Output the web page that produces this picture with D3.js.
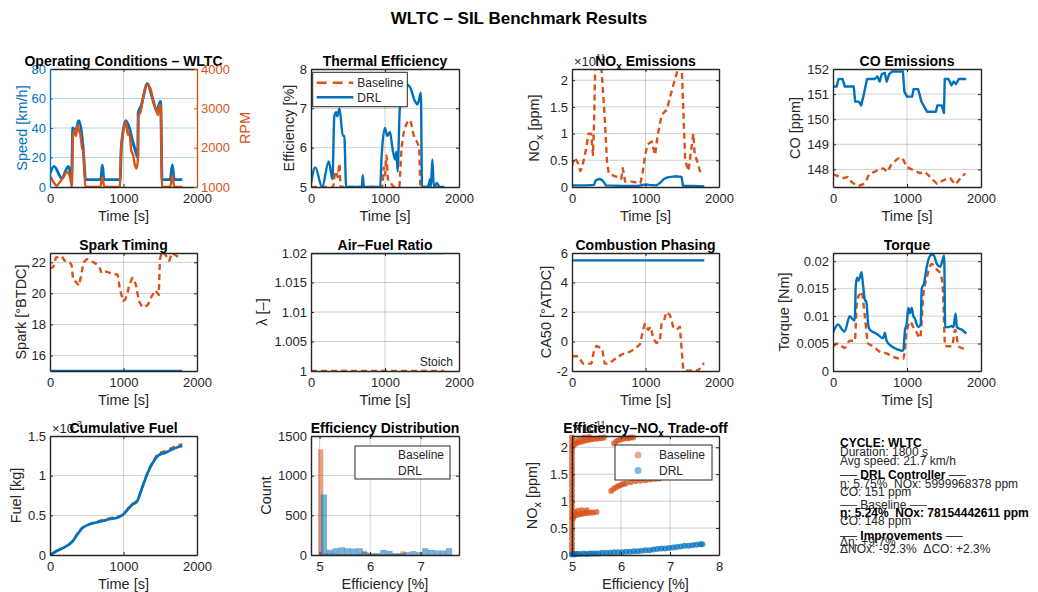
<!DOCTYPE html>
<meta charset="utf-8">
<script src="https://d3js.org/d3.v7.min.js"></script>
<style>
body { margin: 0; background: #fff; }
.grid { stroke: #262626; stroke-opacity: 0.22; stroke-width: 1; }
</style>
<body>
<script>
// ---------- data ----------
var timeTicks = [0, 1000, 2000];

// operating conditions (WLTC)
var speedPts = [[0,9],[55,14],[160,6],[250,14],[295,8],[310,40],[350,38],[390,45],[450,27],[485,5],[690,5],[712,15],[735,5],[955,5],[970,27],[1030,45],[1080,40],[1130,30],[1160,25],[1195,20],[1200,50],[1240,55],[1325,70],[1395,60],[1450,52],[1505,58],[1525,5],[1635,5],[1665,15],[1690,5],[1800,5]];
var rpmPts = [[0,1300],[45,1130],[91,1040],[137,1130],[183,1250],[228,1380],[256,1340],[283,1150],[297,1000],[310,2200],[329,2450],[356,2300],[374,2580],[393,2450],[411,2350],[434,2020],[457,1850],[480,1000],[685,1000],[712,1250],[740,1000],[950,1000],[968,1940],[1005,2490],[1032,2660],[1059,2320],[1078,2400],[1105,1940],[1132,1800],[1150,1600],[1178,1470],[1196,1700],[1200,2790],[1233,2920],[1269,3300],[1324,3600],[1370,3480],[1406,3170],[1443,2960],[1470,2830],[1493,3090],[1507,3050],[1525,1000],[1635,1000],[1667,1300],[1690,1000],[1800,1000]];

// thermal efficiency [%]
var effDRL = [[0,5.1],[58,5.5],[150,5.0],[240,5.65],[290,5.2],[315,6.8],[340,6.9],[355,6.8],[385,7.0],[430,6.3],[450,6.3],[475,5.0],[685,5.0],[700,5.3],[715,5.0],[935,5.0],[955,5.8],[1000,6.5],[1030,6.3],[1067,6.4],[1100,6.0],[1135,5.7],[1155,5.9],[1170,5.4],[1200,7.0],[1225,7.3],[1290,7.6],[1335,7.55],[1400,7.2],[1440,7.1],[1485,7.4],[1500,5.0],[1580,5.0],[1595,5.1],[1610,5.2],[1620,5.0],[1640,5.7],[1660,5.0],[1700,5.1],[1740,5.0],[1800,5.0]];
var effBase = [[0,5.0],[300,5.0],[320,5.3],[340,5.4],[360,5.25],[385,5.6],[400,5.0],[960,5.0],[985,5.5],[1000,5.3],[1020,5.8],[1040,5.2],[1080,5.1],[1120,5.0],[1190,5.0],[1225,6.0],[1290,6.6],[1335,6.7],[1390,6.3],[1460,6.0],[1480,5.0],[1800,5.0]];

// NOx [x1e11 ppm]
var noxBase = [[0,0.4],[36,0.55],[80,0.45],[113,0.3],[135,0.35],[190,0.7],[225,1.0],[260,1.0],[285,0.6],[300,1.2],[316,2.25],[400,2.25],[416,1.9],[445,1.3],[475,0.5],[500,0.25],[590,0.2],[670,0.15],[690,0.35],[725,0.1],[815,0.1],[930,0.07],[960,0.25],[995,0.6],[1030,0.8],[1085,0.85],[1130,0.6],[1170,1.0],[1220,1.35],[1290,1.45],[1357,1.8],[1448,2.25],[1493,2.25],[1505,1.8],[1540,0.5],[1585,0.3],[1650,1.0],[1670,0.6],[1700,0.5],[1740,0.3],[1800,0.25]];
var noxDRL = [[0,0.03],[200,0.03],[300,0.04],[320,0.12],[360,0.15],[400,0.14],[440,0.08],[460,0.03],[700,0.02],[900,0.02],[1000,0.05],[1050,0.04],[1150,0.03],[1200,0.08],[1250,0.15],[1300,0.18],[1400,0.2],[1490,0.19],[1510,0.02],[1650,0.02],[1800,0.01]];

// CO [ppm]
var coDRL = [[0,151.3],[50,151.3],[75,151.6],[130,151.6],[160,151.3],[280,151.3],[300,150.7],[350,150.7],[380,150.55],[410,150.9],[460,151.6],[560,151.6],[600,151.7],[630,151.5],[660,151.8],[700,151.85],[725,151.5],[760,151.8],[800,151.9],[945,151.9],[965,151.1],[1000,150.9],[1070,150.9],[1090,151.2],[1150,151.2],[1195,150.7],[1270,150.3],[1390,150.3],[1410,150.55],[1470,150.55],[1500,150.25],[1510,151.6],[1560,151.6],[1600,151.35],[1630,151.5],[1660,151.4],[1700,151.6],[1800,151.6]];
var coBase = [[0,147.8],[50,147.75],[100,147.7],[150,147.65],[200,147.7],[250,147.5],[300,147.4],[350,147.35],[400,147.4],[440,147.5],[470,147.7],[500,147.84],[560,147.9],[620,148.0],[680,148.04],[733,147.9],[790,148.2],[880,148.44],[940,148.45],[995,148.1],[1086,147.97],[1176,147.85],[1244,147.9],[1312,147.7],[1403,147.43],[1450,147.5],[1516,147.6],[1584,147.65],[1652,147.4],[1710,147.6],[1787,147.85]];

// spark timing [deg BTDC]
var sparkDRL = [[0,15],[1800,15]];
var sparkBase = [[0,21.6],[45,21.7],[80,22.3],[157,22.4],[200,22.1],[270,22.0],[295,21.8],[314,20.9],[360,20.7],[395,20.5],[426,21.2],[457,22.0],[502,22.2],[560,22.1],[628,21.9],[673,21.7],[700,21.3],[762,21.4],[830,21.3],[920,21.2],[950,20.3],[995,19.5],[1022,19.6],[1054,20.0],[1076,20.5],[1121,21.0],[1166,20.6],[1210,19.5],[1247,19.2],[1287,19.1],[1336,19.3],[1381,19.8],[1435,20.2],[1480,19.9],[1495,22.2],[1525,22.7],[1570,22.5],[1623,22.1],[1659,22.6],[1726,22.4],[1771,22.3]];

// air-fuel ratio
var lambdaDRL = [[0,1.02],[1800,1.02]];
var lambdaBase = [[0,1.0],[1800,1.0]];

// CA50 [deg ATDC]
var ca50DRL = [[0,5.5],[1800,5.5]];
var ca50Base = [[0,-1.0],[82,-1.0],[150,-1.5],[264,-1.5],[300,-0.6],[332,-0.3],[377,-0.4],[410,-0.5],[445,-1.5],[500,-1.5],[582,-1.2],[627,-1.1],[664,-0.9],[718,-0.8],[786,-0.7],[855,-0.5],[923,-0.2],[955,0.5],[990,1.2],[1036,0.8],[1073,1.0],[1105,0.2],[1150,-0.1],[1195,0],[1218,1.2],[1255,1.5],[1286,2.0],[1332,1.8],[1377,1.0],[1423,0.8],[1468,1.0],[1491,-0.5],[1514,-1.9],[1582,-2.0],[1673,-1.9],[1709,-2.0],[1790,-1.5],[1800,-1.5]];

// torque [Nm]
var torqueDRL = [[0,0.0070],[45,0.0082],[68,0.0085],[127,0.0075],[158,0.0072],[226,0.0100],[262,0.0095],[294,0.0092],[308,0.0155],[326,0.0170],[344,0.0165],[362,0.0170],[385,0.0180],[407,0.0155],[430,0.0130],[452,0.0125],[475,0.0085],[498,0.0075],[588,0.0068],[678,0.0060],[701,0.0070],[724,0.0055],[792,0.0045],[860,0.0040],[928,0.0037],[950,0.0038],[973,0.0075],[995,0.0085],[1018,0.0115],[1040,0.0105],[1063,0.0115],[1086,0.0100],[1109,0.0095],[1131,0.0085],[1154,0.0080],[1185,0.0085],[1199,0.0150],[1231,0.0160],[1267,0.0190],[1312,0.0210],[1357,0.0212],[1403,0.0195],[1448,0.0190],[1502,0.0210],[1516,0.0080],[1561,0.0080],[1606,0.0082],[1629,0.0080],[1656,0.0105],[1674,0.0080],[1742,0.0075],[1800,0.0068]];
var torqueBase = [[0,0.0045],[68,0.0050],[158,0.0042],[226,0.0055],[294,0.0055],[326,0.0130],[362,0.0140],[385,0.0145],[430,0.0100],[475,0.0050],[543,0.0045],[633,0.0035],[724,0.0032],[792,0.0027],[882,0.0023],[950,0.0022],[995,0.0070],[1040,0.0090],[1086,0.0080],[1131,0.0070],[1176,0.0060],[1222,0.0140],[1267,0.0170],[1335,0.0195],[1403,0.0185],[1457,0.0175],[1484,0.0150],[1516,0.0045],[1606,0.0045],[1652,0.0075],[1697,0.0045],[1787,0.0040]];

// cumulative fuel [x1e-3 kg]
var fuelDRL = [[0,0],[90,0.05],[200,0.1],[305,0.17],[380,0.27],[440,0.34],[493,0.37],[672,0.42],[807,0.45],[942,0.48],[996,0.51],[1054,0.57],[1112,0.63],[1180,0.67],[1255,0.85],[1336,1.05],[1390,1.15],[1480,1.26],[1570,1.29],[1660,1.33],[1771,1.37],[1800,1.375]];
var fuelBase = [[0,0],[90,0.05],[200,0.1],[305,0.17],[380,0.28],[440,0.345],[493,0.37],[672,0.43],[807,0.46],[942,0.49],[996,0.51],[1054,0.58],[1112,0.64],[1180,0.68],[1255,0.86],[1336,1.06],[1390,1.16],[1480,1.28],[1570,1.31],[1660,1.35],[1771,1.39],[1800,1.395]];

// efficiency histogram
var histEdgesBase = [4.974,5.070,5.166,5.262,5.358,5.454,5.550,5.646,5.742,5.838,5.934,6.030,6.126,6.222,6.318,6.414,6.510,6.606,6.702];
var histCountsBase = [1330,22,18,15,12,10,10,10,15,52,12,10,8,8,8,10,12,42];
var histEdgesDRL = [5.026,5.144,5.262,5.380,5.498,5.616,5.734,5.852,5.970,6.088,6.206,6.324,6.442,6.560,6.678,6.796,6.914,7.032,7.150,7.268,7.386,7.504,7.622];
var histCountsDRL = [760,65,84,95,84,80,84,34,21,21,63,50,21,21,34,46,34,84,63,55,55,84];

// efficiency vs NOx scatter
var scatterBase = [[5.0,0.02],[5.0,0.08],[5.0,0.15],[5.0,0.22],[5.0,0.3],[5.0,0.38],[5.0,0.45],[5.0,0.52],[5.0,0.6],[5.0,0.68],[5.0,0.75],[5.0,0.82],[5.0,0.9],[5.0,0.98],[5.0,1.05],[5.0,1.12],[5.0,1.2],[5.0,1.28],[5.0,1.35],[5.0,1.42],[5.0,1.5],[5.0,1.58],[5.0,1.65],[5.0,1.72],[5.0,1.8],[5.0,1.88],[5.0,1.95],[5.0,2.02],[5.0,2.1],[5.0,2.18],
  [5.02,2.03],[5.06,2.06],[5.1,2.08],[5.15,2.1],[5.2,2.11],[5.25,2.12],[5.3,2.13],[5.35,2.14],[5.4,2.15],[5.45,2.16],[5.5,2.16],[5.55,2.17],[5.6,2.17],[5.65,2.18],[5.05,2.12],[5.15,2.16],[5.25,2.18],[5.35,2.19],
  [5.86,2.07],[5.9,2.11],[5.95,2.13],[6.0,2.15],[6.05,2.16],[6.1,2.17],[6.15,2.17],[6.2,2.18],[6.25,2.18],
  [5.8,1.19],[5.85,1.23],[5.9,1.26],[5.95,1.28],[6.0,1.3],[6.05,1.32],[6.1,1.33],[6.2,1.35],[6.3,1.37],[6.4,1.38],[6.5,1.39],[6.6,1.4],[6.7,1.41],[6.78,1.42],
  [5.02,0.68],[5.03,0.72],[5.08,0.74],[5.13,0.75],[5.18,0.76],[5.23,0.77],[5.28,0.78],[5.33,0.78],[5.38,0.79],[5.43,0.79],[5.5,0.8],[5.05,0.8],[5.12,0.82],[5.2,0.83],[5.3,0.83]];
var scatterDRL = [[5.0,0.01],[5.02,0.02],[5.05,0.01],[5.08,0.02],[5.12,0.02],[5.18,0.02],[5.24,0.03],[5.3,0.02],[5.36,0.03],[5.42,0.03],[5.48,0.03],[5.55,0.03],[5.62,0.04],[5.7,0.04],[5.78,0.04],[5.86,0.05],[5.94,0.05],[6.02,0.05],[6.1,0.06],[6.18,0.06],[6.26,0.07],[6.34,0.07],[6.42,0.08],[6.5,0.09],[6.58,0.09],[6.66,0.1],[6.74,0.11],[6.82,0.12],[6.9,0.12],[6.98,0.13],[7.06,0.14],[7.14,0.15],[7.22,0.16],[7.3,0.17],[7.38,0.17],[7.46,0.18],[7.54,0.19],[7.62,0.2],[7.66,0.2]];

var seriesNames = ['Baseline', 'DRL'];

var summaryText = ['CYCLE: WLTC', 'Duration: 1800 s', 'Avg speed: 21.7 km/h',
  '\u2500\u2500 DRL Controller \u2500\u2500', '\u03b7: 5.75%  NOx: 5999968378 ppm', 'CO: 151 ppm',
  '\u2500\u2500 Baseline \u2500\u2500', '\u03b7: 5.24%  NOx: 78154442611 ppm', 'CO: 148 ppm',
  '\u2500\u2500 Improvements \u2500\u2500', '\u0394\u03b7: +9.7%', '\u0394NOx: -92.3%  \u0394CO: +2.3%'];

// ---------- layout ----------
var summaryY = [447, 456, 465, 479, 488, 496, 509, 517, 525, 540, 546, 553];
var summaryBold = [1, 0, 0, 1, 0, 0, 0, 1, 0, 1, 0, 0];

var BLUE = '#0072BD', ORANGE = '#D95319', GRAY = '#262626';
var fontFam = '"Liberation Sans", Arial, Helvetica, sans-serif';
var cols = [[50, 197], [311, 459], [572, 719], [833, 981]];
var rows = [[69, 187], [253, 371], [436, 555]];

var svg = d3.select('body').append('svg')
    .attr('width', 1038)
    .attr('height', 592)
    .style('font-family', fontFam);

svg.append('text')
    .attr('x', 519).attr('y', 24)
    .attr('text-anchor', 'middle')
    .attr('font-size', 17).attr('font-weight', 'bold')
    .attr('fill', '#000')
    .text('WLTC \u2013 SIL Benchmark Results');

function fmt(d) { return String(d); }
function noLabel() { return ''; }

function addAxis(layer, axis, transform, color) {
    var a = layer.append('g').attr('transform', transform).call(axis)
        .attr('color', color).attr('font-family', fontFam).attr('font-size', 13);
    a.select('.domain').attr('stroke-width', 1.4);
    return a;
}

function richText(sel, parts) {
    parts.forEach(function(p) {
        var t = sel.append('tspan').text(p.t);
        if (p.dy) t.attr('dy', p.dy);
        if (p.size) t.attr('font-size', p.size);
    });
    return sel;
}

function makePanel(o) {
    var c = cols[o.col], r = rows[o.row];
    var x = d3.scaleLinear().domain(o.xDomain).range(c);
    var y = d3.scaleLinear().domain(o.yDomain).range([r[1], r[0]]);
    var g = svg.append('g');
    var id = 'clip' + o.col + '' + o.row;
    g.append('clipPath').attr('id', id).append('rect')
        .attr('x', c[0]).attr('y', r[0]).attr('width', c[1] - c[0]).attr('height', r[1] - r[0]);

    var grid = g.append('g');
    grid.selectAll('line.gx')
        .data(o.xTicks.filter(function(v) { return x(v) > c[0] + 1 && x(v) < c[1] - 1; }))
        .enter().append('line').attr('class', 'grid')
        .attr('x1', x).attr('x2', x).attr('y1', r[0]).attr('y2', r[1]);
    grid.selectAll('line.gy')
        .data(o.yTicks.filter(function(v) { return y(v) > r[0] + 1 && y(v) < r[1] - 1; }))
        .enter().append('line').attr('class', 'grid')
        .attr('x1', c[0]).attr('x2', c[1]).attr('y1', y).attr('y2', y)
        .style('stroke', o.yGridColor || null)
        .style('stroke-opacity', o.yGridColor ? 0.3 : null);

    var plot = g.append('g').attr('clip-path', 'url(#' + id + ')');
    var free = g.append('g');
    var frame = g.append('g');
    var leftColor = o.leftColor || GRAY;

    addAxis(frame, d3.axisBottom(x).tickValues(o.xTicks).tickFormat(fmt).tickSize(-3).tickSizeOuter(0).tickPadding(7),
        'translate(0,' + r[1] + ')', GRAY);
    addAxis(frame, d3.axisTop(x).tickValues(o.xTicks).tickFormat(noLabel).tickSize(-3).tickSizeOuter(0),
        'translate(0,' + r[0] + ')', GRAY);
    addAxis(frame, d3.axisLeft(y).tickValues(o.yTicks).tickFormat(fmt).tickSize(-3).tickSizeOuter(0).tickPadding(4),
        'translate(' + c[0] + ',0)', leftColor);
    if (!o.noRight) {
        addAxis(frame, d3.axisRight(y).tickValues(o.yTicks).tickFormat(noLabel).tickSize(-3).tickSizeOuter(0),
            'translate(' + c[1] + ',0)', GRAY);
    }

    // axis labels
    frame.append('text')
        .attr('x', (c[0] + c[1]) / 2).attr('y', r[1] + 34)
        .attr('text-anchor', 'middle').attr('font-size', 14.5).attr('fill', GRAY)
        .text(o.xlabel || 'Time [s]');
    var yl = frame.append('text')
        .attr('transform', 'translate(' + (o.ylabelX + 5) + ',' + (r[0] + r[1]) / 2 + ') rotate(-90)')
        .attr('text-anchor', 'middle').attr('font-size', 14.5).attr('fill', leftColor);
    if (typeof o.ylabel === 'string') yl.text(o.ylabel); else richText(yl, o.ylabel);

    if (o.exponent) {
        var ex = frame.append('text').attr('x', c[0] + 2).attr('y', r[0] - 3)
            .attr('font-size', 13).attr('fill', GRAY);
        richText(ex, [{t: '\u00d710'}, {t: o.exponent, dy: -6, size: 9}]);
    }

    var tt = frame.append('text')
        .attr('x', (c[0] + c[1]) / 2).attr('y', r[0] - 3)
        .attr('text-anchor', 'middle').attr('font-size', 14).attr('font-weight', 'bold').attr('fill', '#000');
    if (typeof o.title === 'string') tt.text(o.title); else richText(tt, o.title);

    return {x: x, y: y, c: c, r: r, plot: plot, free: free, frame: frame};
}

function drawLine(p, pts, color, dashed, curve, width, yScale) {
    var ys = yScale || p.y;
    var line = d3.line()
        .x(function(d) { return p.x(d[0]); })
        .y(function(d) { return ys(d[1]); })
        .curve(curve || d3.curveLinear);
    p.plot.append('path')
        .datum(pts)
        .attr('d', line)
        .attr('fill', 'none')
        .attr('stroke', color)
        .attr('stroke-width', width || 2.4)
        .attr('stroke-linejoin', 'round')
        .attr('stroke-dasharray', dashed ? '6,4' : null);
}

// ---------- row 1 ----------
var p1 = makePanel({col: 0, row: 0, xDomain: [0, 2000], yDomain: [0, 80], xTicks: timeTicks,
    yTicks: [0, 20, 40, 60, 80], title: 'Operating Conditions \u2013 WLTC', ylabel: 'Speed [km/h]',
    ylabelX: 22, leftColor: BLUE, noRight: true, yGridColor: BLUE});
var rpmY = d3.scaleLinear().domain([1000, 4000]).range([rows[0][1], rows[0][0]]);
drawLine(p1, speedPts, BLUE, false, d3.curveMonotoneX, 2.9);
drawLine(p1, rpmPts, ORANGE, false, d3.curveMonotoneX, 2.4, rpmY);
addAxis(p1.frame, d3.axisRight(rpmY).tickValues([1000, 2000, 3000, 4000]).tickFormat(fmt).tickSize(-3).tickSizeOuter(0).tickPadding(4),
    'translate(' + cols[0][1] + ',0)', ORANGE);
p1.frame.append('text')
    .attr('transform', 'translate(' + (245 + 5) + ',' + (rows[0][0] + rows[0][1]) / 2 + ') rotate(-90)')
    .attr('text-anchor', 'middle').attr('font-size', 14.5).attr('fill', ORANGE).text('RPM');

var p2 = makePanel({col: 1, row: 0, xDomain: [0, 2000], yDomain: [5, 8], xTicks: timeTicks,
    yTicks: [5, 6, 7, 8], title: 'Thermal Efficiency', ylabel: 'Efficiency [%]', ylabelX: 289});
drawLine(p2, effBase, ORANGE, true, d3.curveMonotoneX);
drawLine(p2, effDRL, BLUE, false, d3.curveMonotoneX);
(function() {
    var lg = p2.free.append('g');
    lg.append('rect').attr('x', 312.7).attr('y', 72.3).attr('width', 94.6).attr('height', 34.4)
        .attr('fill', '#fff').attr('stroke', GRAY).attr('stroke-width', 1);
    var colors = [ORANGE, BLUE];
    seriesNames.forEach(function(name, i) {
        var yy = 82.7 + i * 14.6;
        lg.append('line').attr('x1', 316.7).attr('x2', 353.3).attr('y1', yy).attr('y2', yy)
            .attr('stroke', colors[i]).attr('stroke-width', 2.4)
            .attr('stroke-dasharray', i === 0 ? '10,6' : null);
        lg.append('text').attr('x', 357.3).attr('y', yy + 4.3).attr('font-size', 12).attr('fill', GRAY).text(name);
    });
})();

var p3 = makePanel({col: 2, row: 0, xDomain: [0, 2000], yDomain: [0, 2.21], xTicks: timeTicks,
    yTicks: [0, 0.5, 1, 1.5, 2], exponent: '11',
    title: [{t: 'NO'}, {t: 'x', dy: 4, size: 10}, {t: ' Emissions', dy: -4}],
    ylabel: [{t: 'NO'}, {t: 'x', dy: 4, size: 10.5}, {t: ' [ppm]', dy: -4}], ylabelX: 534});
drawLine(p3, noxBase, ORANGE, true);
drawLine(p3, noxDRL, BLUE, false);

var p4 = makePanel({col: 3, row: 0, xDomain: [0, 2000], yDomain: [147.3, 152], xTicks: timeTicks,
    yTicks: [148, 149, 150, 151, 152], title: 'CO Emissions', ylabel: 'CO [ppm]', ylabelX: 795});
drawLine(p4, coBase, ORANGE, true);
drawLine(p4, coDRL, BLUE, false);

// ---------- row 2 ----------
var p5 = makePanel({col: 0, row: 1, xDomain: [0, 2000], yDomain: [15, 22.6], xTicks: timeTicks,
    yTicks: [16, 18, 20, 22], title: 'Spark Timing', ylabel: 'Spark [\u00b0BTDC]', ylabelX: 21});
drawLine(p5, sparkBase, ORANGE, true);
drawLine(p5, sparkDRL, BLUE, false, null, 2.6);

var p6 = makePanel({col: 1, row: 1, xDomain: [0, 2000], yDomain: [1, 1.02], xTicks: timeTicks,
    yTicks: [1, 1.005, 1.01, 1.015, 1.02], title: 'Air\u2013Fuel Ratio', ylabel: '\u03bb [\u2013]', ylabelX: 262});
drawLine(p6, lambdaBase, ORANGE, true, null, 2.6);
drawLine(p6, lambdaDRL, BLUE, false, null, 2.6);
p6.free.append('text').attr('x', 453).attr('y', 365.5).attr('text-anchor', 'end')
    .attr('font-size', 12).attr('fill', GRAY).text('Stoich');

var p7 = makePanel({col: 2, row: 1, xDomain: [0, 2000], yDomain: [-2, 6], xTicks: timeTicks,
    yTicks: [-2, 0, 2, 4, 6], title: 'Combustion Phasing', ylabel: 'CA50 [\u00b0ATDC]', ylabelX: 546});
drawLine(p7, ca50Base, ORANGE, true);
drawLine(p7, ca50DRL, BLUE, false);

var p8 = makePanel({col: 3, row: 1, xDomain: [0, 2000], yDomain: [0, 0.0215], xTicks: timeTicks,
    yTicks: [0, 0.005, 0.01, 0.015, 0.02], title: 'Torque', ylabel: 'Torque [Nm]', ylabelX: 784});
drawLine(p8, torqueBase, ORANGE, true, d3.curveMonotoneX);
drawLine(p8, torqueDRL, BLUE, false, d3.curveMonotoneX);

// ---------- row 3 ----------
var p9 = makePanel({col: 0, row: 2, xDomain: [0, 2000], yDomain: [0, 1.5], xTicks: timeTicks,
    yTicks: [0, 0.5, 1, 1.5], exponent: '-3', title: 'Cumulative Fuel', ylabel: 'Fuel [kg]', ylabelX: 16});
drawLine(p9, fuelBase, ORANGE, true, d3.curveMonotoneX);
drawLine(p9, fuelDRL, BLUE, false, d3.curveMonotoneX, 2.7);

var p10 = makePanel({col: 1, row: 2, xDomain: [4.83, 7.76], yDomain: [0, 1500], xTicks: [5, 6, 7],
    yTicks: [0, 500, 1000, 1500], title: 'Efficiency Distribution', ylabel: 'Count', ylabelX: 266,
    xlabel: 'Efficiency [%]'});
function drawHist(p, edges, counts, color) {
    p.plot.append('g').selectAll('rect')
        .data(counts)
        .enter().append('rect')
        .attr('x', function(d, i) { return p.x(edges[i]); })
        .attr('width', function(d, i) { return p.x(edges[i + 1]) - p.x(edges[i]); })
        .attr('y', function(d) { return p.y(d); })
        .attr('height', function(d) { return p.y(0) - p.y(d); })
        .attr('fill', color).attr('fill-opacity', 0.55)
        .attr('stroke', '#000').attr('stroke-opacity', 0.15).attr('stroke-width', 0.5);
}
drawHist(p10, histEdgesBase, histCountsBase, ORANGE);
drawHist(p10, histEdgesDRL, histCountsDRL, BLUE);
(function() {
    var lg = p10.free.append('g');
    lg.append('rect').attr('x', 355).attr('y', 446).attr('width', 95).attr('height', 33)
        .attr('fill', '#fff').attr('stroke', GRAY).attr('stroke-width', 1);
    seriesNames.forEach(function(name, i) {
        lg.append('text').attr('x', 398).attr('y', 459 + i * 15.5).attr('font-size', 12).attr('fill', GRAY).text(name);
    });
})();

var p11 = makePanel({col: 2, row: 2, xDomain: [5, 8], yDomain: [0, 2.21], xTicks: [5, 6, 7, 8],
    yTicks: [0, 0.5, 1, 1.5, 2], exponent: '11',
    title: [{t: 'Efficiency\u2013NO'}, {t: 'x', dy: 4, size: 10}, {t: ' Trade-off', dy: -4}],
    ylabel: [{t: 'NO'}, {t: 'x', dy: 4, size: 10.5}, {t: ' [ppm]', dy: -4}], ylabelX: 532,
    xlabel: 'Efficiency [%]'});
function drawScatter(p, pts, color) {
    p.free.append('g').selectAll('circle')
        .data(pts)
        .enter().append('circle')
        .attr('cx', function(d) { return p.x(d[0]); })
        .attr('cy', function(d) { return p.y(d[1]); })
        .attr('r', 3)
        .attr('fill', color).attr('fill-opacity', 0.75);
}
drawScatter(p11, scatterBase, ORANGE);
drawScatter(p11, scatterDRL, BLUE);
(function() {
    var lg = p11.free.append('g');
    lg.append('rect').attr('x', 615).attr('y', 445).attr('width', 97).attr('height', 35)
        .attr('fill', '#fff').attr('stroke', GRAY).attr('stroke-width', 1);
    var colors = [ORANGE, BLUE];
    seriesNames.forEach(function(name, i) {
        var yy = 455 + i * 15.5;
        lg.append('circle').attr('cx', 638).attr('cy', yy).attr('r', 3.5)
            .attr('fill', colors[i]).attr('fill-opacity', 0.5);
        lg.append('text').attr('x', 659).attr('y', yy + 4.3).attr('font-size', 12).attr('fill', GRAY).text(name);
    });
})();

// ---------- summary text ----------
svg.append('g').selectAll('text')
    .data(summaryText)
    .enter().append('text')
    .attr('x', 840)
    .attr('y', function(d, i) { return summaryY[i]; })
    .attr('font-size', 12)
    .attr('font-weight', function(d, i) { return summaryBold[i] ? 'bold' : 'normal'; })
    .attr('fill', function(d, i) { return summaryBold[i] ? '#000' : GRAY; })
    .style('white-space', 'pre')
    .text(function(d) { return d; });
</script>
</body>
</html>
